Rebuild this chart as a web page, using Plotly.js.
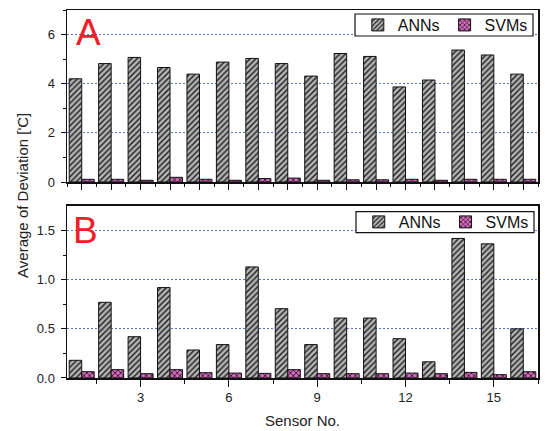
<!DOCTYPE html>
<html>
<head>
<meta charset="utf-8">
<script src="https://cdn.plot.ly/plotly-3.0.1.min.js"></script>
<style>html,body{margin:0;padding:0;background:#fff;}#chart{width:545px;height:431px;}</style>
</head>
<body>
<div id="chart"></div>
<script>
const sensors = [1,2,3,4,5,6,7,8,9,10,11,12,13,14,15,16];
const annA = [4.20,4.82,5.07,4.66,4.39,4.88,5.03,4.82,4.31,5.23,5.11,3.87,4.15,5.37,5.17,4.39];
const svmA = [0.11,0.11,0.07,0.19,0.11,0.07,0.14,0.16,0.07,0.09,0.09,0.11,0.07,0.11,0.11,0.11];
const annB = [0.18,0.77,0.42,0.92,0.285,0.34,1.13,0.705,0.34,0.61,0.61,0.40,0.165,1.42,1.365,0.50];
const svmB = [0.064,0.085,0.044,0.085,0.054,0.05,0.047,0.085,0.044,0.044,0.044,0.05,0.044,0.057,0.034,0.064];
const seriesNames = ['ANNs','SVMs'];
const yTicksB = [0,0.5,1.0,1.5];

const FONT = 'Arial, "Liberation Sans", sans-serif';
const annStyle = {color:'#b4b4b4', line:{color:'#111', width:1},
  pattern:{shape:'/', bgcolor:'#b4b4b4', fgcolor:'#1a1a1a', size:4, solidity:0.35}};
const svmStyle = {color:'#cf6fb8', line:{color:'#111', width:1},
  pattern:{shape:'x', bgcolor:'#cf6fb8', fgcolor:'#3a0d33', size:4, solidity:0.4}};

const traces = [
  {type:'bar', x:sensors, y:annA, name:seriesNames[0], marker:annStyle, xaxis:'x2', yaxis:'y2', legend:'legend'},
  {type:'bar', x:sensors, y:svmA, name:seriesNames[1], marker:svmStyle, xaxis:'x2', yaxis:'y2', legend:'legend'},
  {type:'bar', x:sensors, y:annB, name:seriesNames[0], marker:annStyle, xaxis:'x', yaxis:'y', legend:'legend2'},
  {type:'bar', x:sensors, y:svmB, name:seriesNames[1], marker:svmStyle, xaxis:'x', yaxis:'y', legend:'legend2'}
];

const axLine = {showline:true, linecolor:'#111', linewidth:1.5, mirror:true, zeroline:false};
const grid = {showgrid:true, gridcolor:'#5b70d4', gridwidth:1, griddash:'2px,2px'};
const tickFont = {family:FONT, size:13, color:'#222'};

const layout = {
  width:545, height:431,
  margin:{l:67, r:7, t:10, b:53},
  paper_bgcolor:'#fff', plot_bgcolor:'#fff',
  barmode:'group', bargap:0.15, bargroupgap:0,
  font:{family:FONT, color:'#222'},
  showlegend:true,
  xaxis:Object.assign({}, axLine, {domain:[0,1], range:[0.5,16.5], anchor:'y', tickmode:'linear', tick0:0, dtick:3,
    ticks:'outside', ticklen:7, tickwidth:1, tickcolor:'#111', showgrid:false, tickfont:tickFont,
    minor:{dtick:1.5, tick0:0, ticks:'outside', ticklen:4, tickwidth:1, tickcolor:'#111', showgrid:false},
    title:{text:'Sensor No.', font:{family:FONT, size:15, color:'#222'}, standoff:11}}),
  yaxis:Object.assign({}, axLine, grid, {domain:[0,0.4674], range:[0,1.75], anchor:'x', tickmode:'array', tickvals:yTicksB,
    tickformat:'.1f', ticks:'outside', ticklen:5, tickwidth:1, tickcolor:'#111', tickfont:tickFont, ticklabelstandoff:3,
    minor:{tickvals:[0.25,0.75,1.25], ticks:'outside', ticklen:3, tickwidth:1, tickcolor:'#111', showgrid:false}}),
  xaxis2:Object.assign({}, axLine, {domain:[0,1], range:[0.5,16.5], anchor:'y2', tickmode:'linear', tick0:1, dtick:1,
    ticks:'outside', ticklen:6, tickwidth:1, tickcolor:'#111', showgrid:false, showticklabels:false,
    minor:{dtick:0.5, tick0:0, ticks:'outside', ticklen:3, tickwidth:1, tickcolor:'#111', showgrid:false}}),
  yaxis2:Object.assign({}, axLine, grid, {domain:[0.5326,1], range:[0,7], anchor:'x2', tickmode:'linear', tick0:0, dtick:2,
    ticks:'outside', ticklen:5, tickwidth:1, tickcolor:'#111', tickfont:tickFont, ticklabelstandoff:3,
    minor:{dtick:1, tick0:0, ticks:'outside', ticklen:3, tickwidth:1, tickcolor:'#111', showgrid:false}}),
  legend:{orientation:'h', x:0.989, xanchor:'right', y:0.9592, yanchor:'middle', bgcolor:'rgba(0,0,0,0)', borderwidth:0,
    font:{family:FONT, size:16, color:'#111'}, tracegroupgap:0},
  legend2:{orientation:'h', x:0.991, xanchor:'right', y:0.4239, yanchor:'middle', bgcolor:'rgba(0,0,0,0)', borderwidth:0,
    font:{family:FONT, size:16, color:'#111'}, tracegroupgap:0},
  shapes:[
    {type:'rect', xref:'paper', yref:'paper', x0:0.6115, x1:0.9894, y0:0.9293, y1:0.9891, layer:'above',
      fillcolor:'#fff', line:{color:'#111', width:1.2}},
    {type:'rect', xref:'paper', yref:'paper', x0:0.6136, x1:0.9915, y0:0.3948, y1:0.4519, layer:'above',
      fillcolor:'#fff', line:{color:'#111', width:1.2}}
  ],
  annotations:[
    {text:'A', xref:'paper', yref:'paper', x:0.015, y:0.938, xanchor:'left', yanchor:'middle', showarrow:false,
      font:{family:FONT, size:37, color:'#f0202a'}},
    {text:'B', xref:'paper', yref:'paper', x:0.008, y:0.402, xanchor:'left', yanchor:'middle', showarrow:false,
      font:{family:FONT, size:37, color:'#f0202a'}},
    {text:"Average of Deviation ['C]", xref:'paper', yref:'paper', x:-0.096, y:0.497, xanchor:'center', yanchor:'middle',
      textangle:-90, showarrow:false, font:{family:FONT, size:15, color:'#222'}}
  ]
};

Plotly.newPlot('chart', traces, layout, {displayModeBar:false, staticPlot:true});
</script>
</body>
</html>
